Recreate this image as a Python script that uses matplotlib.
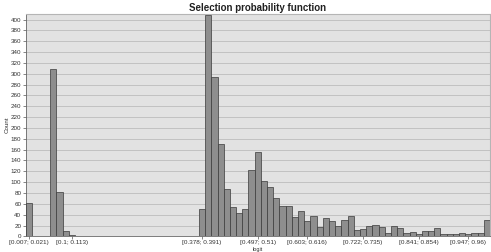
import numpy as np
import matplotlib
matplotlib.use("Agg")
import matplotlib.pyplot as plt

# bin counts (75 bins of width ~0.01324 starting at 0.007)
counts = [62, 1, 1, 0, 308, 81, 9, 2, 1, 1,
          0, 0, 0, 0, 0, 0, 0, 0, 0, 0,
          0, 0, 0, 0, 0, 0, 0, 0, 51, 408,
          294, 170, 87, 54, 44, 51, 122, 155, 102, 91,
          70, 56, 56, 35, 47, 28, 37, 17, 34, 28,
          19, 31, 37, 11, 13, 20, 21, 18, 6, 19,
          15, 7, 8, 5, 9, 9, 16, 4, 5, 4,
          6, 5, 7, 7, 30]

tick_bins = [0, 7, 28, 37, 45, 54, 63, 71]
tick_labels = ["[0.007; 0.021)", "[0.1; 0.113)", "[0.378; 0.391)", "[0.497; 0.51)",
               "[0.603; 0.616)", "[0.722; 0.735)", "[0.841; 0.854)", "[0.947; 0.96)"]
y_ticks = list(range(0, 401, 20))

plt.rcParams['font.family'] = ['Liberation Sans', 'DejaVu Sans']

fig = plt.figure(figsize=(4.91, 2.52), dpi=100)
ax = fig.add_axes([0.052, 0.062, 0.946, 0.882])
ax.set_facecolor('#e2e2e2')

x = np.arange(len(counts))
ax.bar(x, counts, width=1.0, color='#8e8e8e', edgecolor='#3a3a3a', linewidth=0.5, zorder=3)

ax.set_xlim(-0.5, len(counts) - 0.5)
ax.set_ylim(0, 410)
ax.set_yticks(y_ticks)
ax.set_yticklabels([str(v) for v in y_ticks], fontsize=4.5, color='#333333')
ax.set_xticks(tick_bins)
ax.set_xticklabels(tick_labels, fontsize=4.6, color='#333333')
ax.tick_params(axis='both', length=2, width=0.5, pad=1, color='#555555')
ax.tick_params(axis='x', pad=0.5)

ax.yaxis.grid(True, color='#c2c2c2', linewidth=0.7, zorder=0)
ax.xaxis.grid(False)

for side in ['top', 'right']:
    ax.spines[side].set_color('#b5b5b5')
    ax.spines[side].set_linewidth(0.8)
ax.spines['left'].set_color('#666666')
ax.spines['left'].set_linewidth(0.6)
ax.spines['bottom'].set_color('#666666')
ax.spines['bottom'].set_linewidth(0.6)

ax.set_title("Selection probability function", fontsize=7, fontweight='bold',
             color='#222222', pad=2)
ax.set_ylabel("Count", fontsize=4.5, color='#333333', labelpad=1)
fig.text(0.525, 0.0, "logit", fontsize=4.0, color='#333333', ha='center', va='bottom')

fig.savefig("out.png", dpi=100)
